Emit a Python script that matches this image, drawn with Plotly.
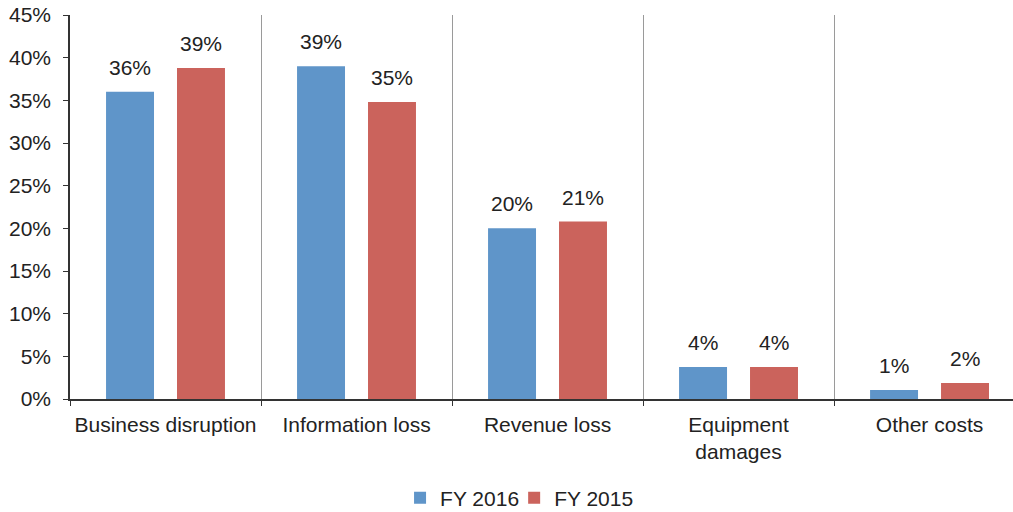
import plotly.graph_objects as go

categories = ["Business disruption", "Information loss", "Revenue loss", "Equipment<br>damages", "Other costs"]
fy2016 = [0.360, 0.390, 0.200, 0.0375, 0.0105]
fy2015 = [0.388, 0.348, 0.208, 0.0375, 0.0188]
y_ticks = [0, 0.05, 0.10, 0.15, 0.20, 0.25, 0.30, 0.35, 0.40, 0.45]
y_tick_labels = ["0%", "5%", "10%", "15%", "20%", "25%", "30%", "35%", "40%", "45%"]

FONT = "Liberation Sans, Arial, sans-serif"
BLUE = "#5F95C9"
RED = "#CB635C"
FS = 21

fig = go.Figure()
fig.add_trace(go.Bar(x=categories, y=fy2016, name="FY 2016", marker_color=BLUE,
                     marker_line_width=0, legend="legend", showlegend=True))
fig.add_trace(go.Bar(x=categories, y=fy2015, name="FY 2015", marker_color=RED,
                     marker_line_width=0, legend="legend2", showlegend=True))

for vals, shift in ((fy2016, -35.5), (fy2015, 35.5)):
    for c, v in zip(categories, vals):
        fig.add_annotation(x=c, y=v, xref="x", yref="y", text=f"{round(v*100):.0f}%",
                           showarrow=False, xshift=shift, yanchor="bottom", yshift=11,
                           font=dict(size=FS, family=FONT, color="#222"))

leg_common = dict(orientation="h", xanchor="left", y=-0.258, yanchor="middle",
                  font=dict(size=FS, family=FONT, color="#222"), itemwidth=30,
                  bgcolor="rgba(0,0,0,0)")

fig.update_layout(
    width=1013, height=512,
    showlegend=True,
    margin=dict(l=70, r=0, t=15, b=113, autoexpand=False),
    barmode="group", bargap=0.257, bargroupgap=0.324,
    plot_bgcolor="white", paper_bgcolor="white",
    font=dict(family=FONT, size=FS, color="#222"),
    legend=dict(x=0.350, **leg_common),
    legend2=dict(x=0.471, **leg_common),
    xaxis=dict(type="category", range=[-0.5, 4.437], tickson="boundaries",
               showgrid=True, gridcolor="#9a9a9a", gridwidth=1,
               showline=True, linecolor="#333", linewidth=1.5,
               ticks="outside", ticklen=5, tickcolor="#333", automargin=False,
               tickangle=0, ticklabelstandoff=6,
               tickfont=dict(size=FS, family=FONT, color="#222")),
    yaxis=dict(range=[0, 0.45], tickvals=y_ticks, ticktext=y_tick_labels,
               showgrid=False, zeroline=False, automargin=False,
               ticklabeloverflow="allow",
               showline=True, linecolor="#333", linewidth=1.5,
               ticks="outside", ticklen=5, tickcolor="#333",
               ticklabelstandoff=8,
               tickfont=dict(size=FS, family=FONT, color="#222")),
)

fig.write_html("out.html", config={"displayModeBar": False},
               post_script="document.body.style.margin='0';document.body.style.padding='0';")
